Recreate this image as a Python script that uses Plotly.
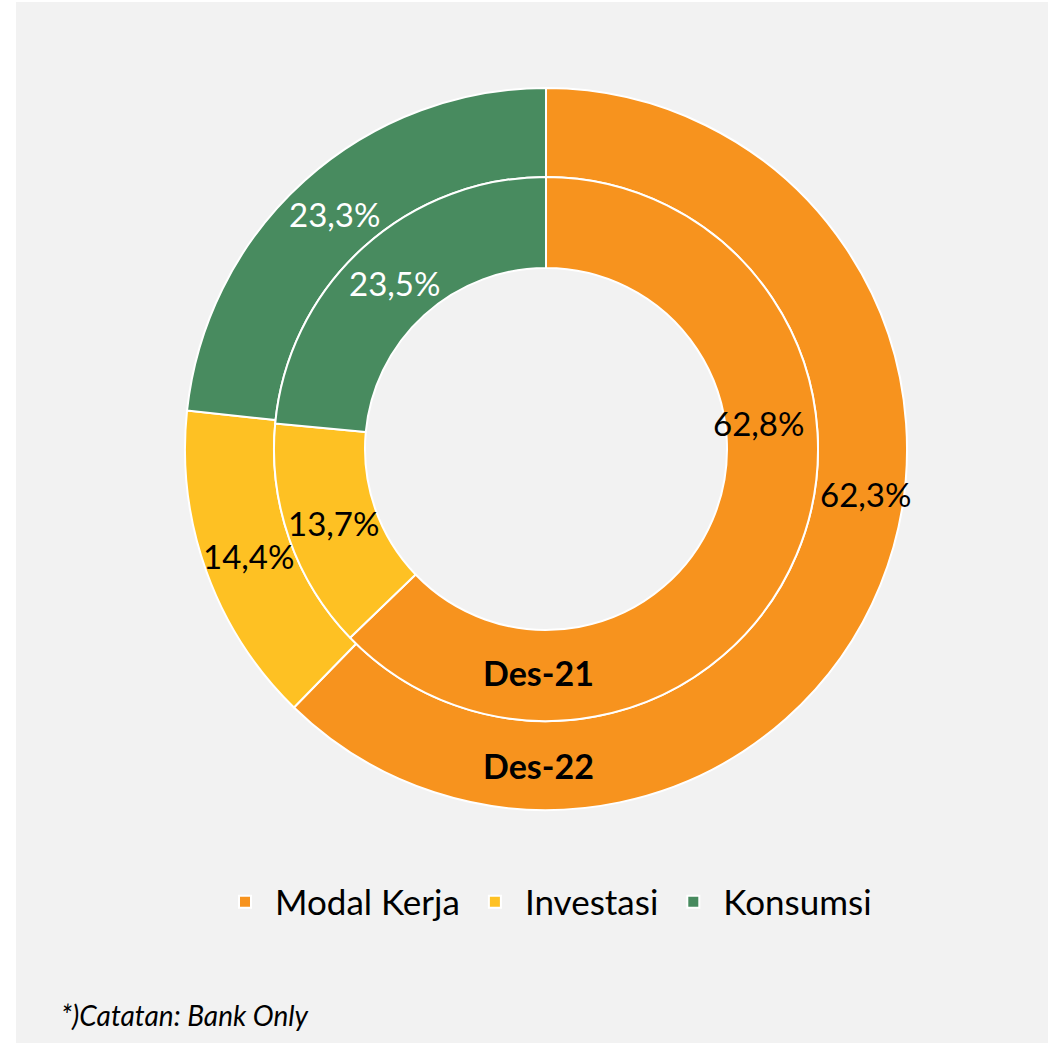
import math
import plotly.graph_objects as go

categories = ["Modal Kerja", "Investasi", "Konsumsi"]
des22 = [62.3, 14.4, 23.3]   # outer ring
des21 = [62.8, 13.7, 23.5]   # inner ring
colors = ["#F7931E", "#FEC123", "#488B5F"]
text_colors = ["black", "black", "white"]
ring_names = ["Des-21", "Des-22"]
footnote = "*)Catatan: Bank Only"

W, H = 1051, 1043
CX, CY = 546, 449          # pie centre in px (from top-left)
R_OUT, R_MID, R_IN = 361, 272, 181

def fmt(v):
    return f"{v:.1f}".replace(".", ",") + "%"

def dom(r):
    return dict(x=[(CX - r) / W, (CX + r) / W],
                y=[1 - (CY + r) / H, 1 - (CY - r) / H])

fig = go.Figure()
fig.add_trace(go.Pie(
    labels=categories, values=des22, sort=False, direction="clockwise", rotation=0,
    hole=R_MID / R_OUT, domain=dom(R_OUT), textinfo="none", hoverinfo="label+value",
    marker=dict(colors=colors, line=dict(color="white", width=2)), showlegend=True,
))
fig.add_trace(go.Pie(
    labels=categories, values=des21, sort=False, direction="clockwise", rotation=0,
    hole=R_IN / R_MID, domain=dom(R_MID), textinfo="none", hoverinfo="label+value",
    marker=dict(colors=colors, line=dict(color="white", width=2)), showlegend=False,
))

FONT = "Lato, 'Open Sans', sans-serif"

def label_annotations(values, r_mid, first_angle, first_r):
    anns = []
    total = sum(values)
    start = 0.0
    for i, v in enumerate(values):
        span = v / total * 360
        ang = start + span / 2
        r = r_mid
        if i == 0:
            ang, r = first_angle, first_r
        a = math.radians(ang)
        px = CX + r * math.sin(a)
        py = CY - r * math.cos(a)
        anns.append(dict(x=px / W, y=1 - py / H, xref="paper", yref="paper",
                         text=fmt(v), showarrow=False,
                         font=dict(family=FONT, size=33, color=text_colors[i]),
                         xanchor="center", yanchor="middle"))
        start += span
    return anns

annotations = []
annotations += label_annotations(des22, 316, 98, 323)
annotations += label_annotations(des21, 225, 83, 214)
annotations.append(dict(x=538 / W, y=1 - 672 / H, xref="paper", yref="paper", text="<b>" + ring_names[0] + "</b>",
                        showarrow=False, xanchor="center", yanchor="middle",
                        font=dict(family=FONT, size=34, color="black")))
annotations.append(dict(x=538 / W, y=1 - 765 / H, xref="paper", yref="paper", text="<b>" + ring_names[1] + "</b>",
                        showarrow=False, xanchor="center", yanchor="middle",
                        font=dict(family=FONT, size=34, color="black")))
annotations.append(dict(x=59 / W, y=1 - 1015 / H, xref="paper", yref="paper", text="<i>" + footnote + "</i>",
                        showarrow=False, xanchor="left", yanchor="middle",
                        font=dict(family=FONT, size=28, color="black")))

shapes = [
    dict(type="rect", xref="paper", yref="paper", x0=0, x1=16 / W, y0=0, y1=1,
         fillcolor="white", line=dict(width=0)),
    dict(type="rect", xref="paper", yref="paper", x0=0, x1=1, y0=1 - 2 / H, y1=1,
         fillcolor="white", line=dict(width=0)),
    dict(type="rect", xref="paper", yref="paper", x0=1048 / W, x1=1, y0=0, y1=1,
         fillcolor="white", line=dict(width=0)),
]

fig.update_layout(
    width=W, height=H,
    margin=dict(l=0, r=0, t=0, b=0),
    paper_bgcolor="#F2F2F2", plot_bgcolor="#F2F2F2",
    font=dict(family=FONT, color="black"),
    showlegend=True,
    legend=dict(orientation="h", x=546 / W, xanchor="center", y=1 - 902 / H, yanchor="middle",
                font=dict(family=FONT, size=35, color="black"), bgcolor="rgba(0,0,0,0)",
                traceorder="normal", itemwidth=50),
    annotations=annotations,
    shapes=shapes,
)

fig.write_html("out.html", config={"displayModeBar": False},
               post_script="document.body.style.margin='0';document.body.style.overflow='hidden';")
